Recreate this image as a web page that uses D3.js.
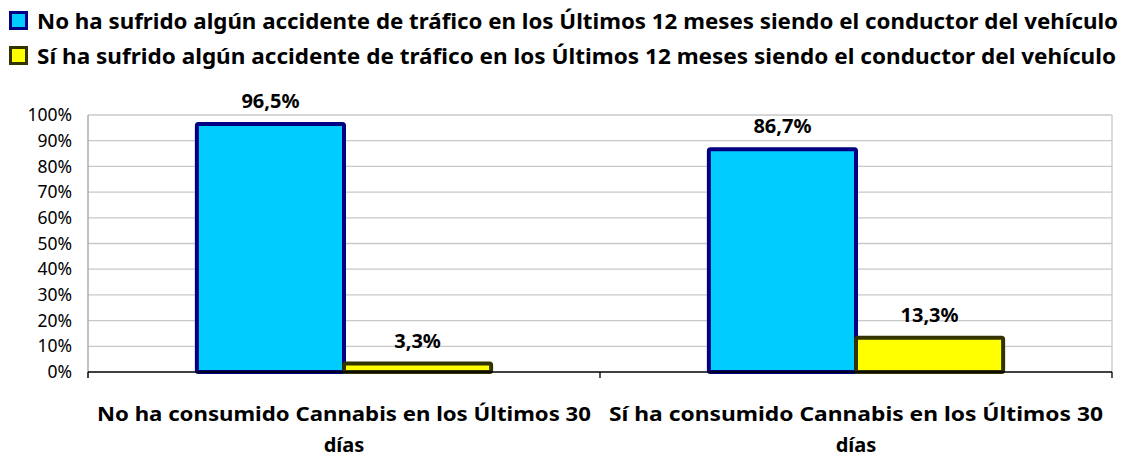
<!DOCTYPE html>
<html>
<head>
<meta charset="utf-8">
<script src="https://cdn.jsdelivr.net/npm/d3@7"></script>
<style>
  body { margin: 0; background: #fff; }
  text { font-family: "Noto Sans", "DejaVu Sans", sans-serif; fill: #000; }
</style>
</head>
<body>
<div id="viz"></div>
<script>
// categories (two lines each) and the two series
var categories = ["No ha consumido Cannabis en los Últimos 30 días",
                  "Sí ha consumido Cannabis en los Últimos 30 días"];
var categoryLines = [["No ha consumido Cannabis en los Últimos 30", "días"],
                     ["Sí ha consumido Cannabis en los Últimos 30", "días"]];
var seriesNames = ["No ha sufrido algún accidente de tráfico en los Últimos 12 meses siendo el conductor del vehículo",
                   "Sí ha sufrido algún accidente de tráfico en los Últimos 12 meses siendo el conductor del vehículo"];
var noAccident = [96.5, 86.7];
var yesAccident = [3.3, 13.3];
var yTicks = [0, 10, 20, 30, 40, 50, 60, 70, 80, 90, 100];

var fills = ["#00ccff", "#ffff00"];
var strokes = ["#000080", "#333300"];

// note: "top" is reserved on window, so plot edges get their own names
var W = 1132, H = 458;
var plotLeft = 88, plotRight = 1112, plotTop = 115, plotBottom = 372;

var svg = d3.select("#viz").append("svg")
    .attr("width", W).attr("height", H);

var x0 = d3.scaleBand().domain(categories).range([plotLeft, plotRight]).paddingInner(0).paddingOuter(0);
var x1 = d3.scaleBand().domain([0, 1]).range([0, x0.bandwidth()]).paddingOuter(0.74).paddingInner(0);
var y = d3.scaleLinear().domain([0, 100]).range([plotBottom, plotTop]);

// gridlines
svg.append("g")
  .selectAll("line").data(yTicks.slice(1)).join("line")
    .attr("x1", plotLeft).attr("x2", plotRight)
    .attr("y1", d => y(d)).attr("y2", d => y(d))
    .attr("stroke", "#c8c8c8").attr("stroke-width", 1.3);
// right border + left axis
svg.append("line").attr("x1", plotRight).attr("x2", plotRight).attr("y1", plotTop).attr("y2", plotBottom)
    .attr("stroke", "#c8c8c8").attr("stroke-width", 1.3);
svg.append("line").attr("x1", plotLeft).attr("x2", plotLeft).attr("y1", plotTop).attr("y2", plotBottom + 6)
    .attr("stroke", "#a0a0a0").attr("stroke-width", 1.3);

// y axis labels
var yAxis = d3.axisLeft(y).tickValues(yTicks).tickFormat(d => d + "%").tickSize(0).tickPadding(16);
var gy = svg.append("g").attr("transform", "translate(" + plotLeft + ",0)").call(yAxis);
gy.select(".domain").remove();
gy.selectAll("text").style("font-size", "17.5px").style("font-family", "\"Noto Sans\", sans-serif").attr("fill", "#000");

// bars
var series = [noAccident, yesAccident];
var groups = svg.append("g").selectAll("g").data(categories).join("g")
    .attr("transform", d => "translate(" + x0(d) + ",0)");

groups.each(function(cat, ci) {
  var g = d3.select(this);
  [0, 1].forEach(function(si) {
    var v = series[si][ci];
    g.append("rect")
      .attr("x", x1(si)).attr("width", x1.bandwidth())
      .attr("y", y(v)).attr("height", y(0) - y(v))
      .attr("fill", fills[si]).attr("stroke", strokes[si]).attr("stroke-width", 4)
      .attr("rx", 1.5);
    g.append("text")
      .attr("x", x1(si) + x1.bandwidth() / 2)
      .attr("y", y(v) - 16)
      .attr("text-anchor", "middle")
      .style("font-size", "20px").style("font-weight", "bold")
      .text(d3.format(".1f")(v).replace(".", ",") + "%");
  });
});

// bottom axis line with ticks
svg.append("line").attr("x1", plotLeft).attr("x2", plotRight).attr("y1", plotBottom).attr("y2", plotBottom)
    .attr("stroke", "#000").attr("stroke-width", 1.3);
svg.append("g").selectAll("line").data([plotLeft, plotLeft + x0.bandwidth(), plotRight]).join("line")
    .attr("x1", d => d).attr("x2", d => d).attr("y1", plotBottom).attr("y2", plotBottom + 6)
    .attr("stroke", "#000").attr("stroke-width", 1.3);

// category labels
groups.each(function(cat, ci) {
  var g = d3.select(this);
  categoryLines[ci].forEach(function(t, li) {
    var tx = g.append("text")
      .attr("x", x0.bandwidth() / 2)
      .attr("y", 421 + li * 31)
      .attr("text-anchor", "middle")
      .style("font-size", "20px").style("font-weight", "bold")
      .text(t);
    if (li === 0) tx.attr("textLength", 494).attr("lengthAdjust", "spacingAndGlyphs");
  });
});

// legend
var legend = svg.append("g").selectAll("g").data(seriesNames).join("g")
    .attr("transform", (d, i) => "translate(9," + (11 + i * 35) + ")");
legend.append("rect")
    .attr("x", 1.5).attr("y", 1.5).attr("width", 16).attr("height", 16)
    .attr("fill", (d, i) => fills[i]).attr("stroke", (d, i) => strokes[i]).attr("stroke-width", 3);
legend.append("text")
    .attr("x", 28).attr("y", 18)
    .style("font-size", "20.5px").style("font-weight", "bold")
    .attr("textLength", (d, i) => i === 0 ? 1081 : 1079)
    .attr("lengthAdjust", "spacingAndGlyphs")
    .text(d => d);
</script>
</body>
</html>
